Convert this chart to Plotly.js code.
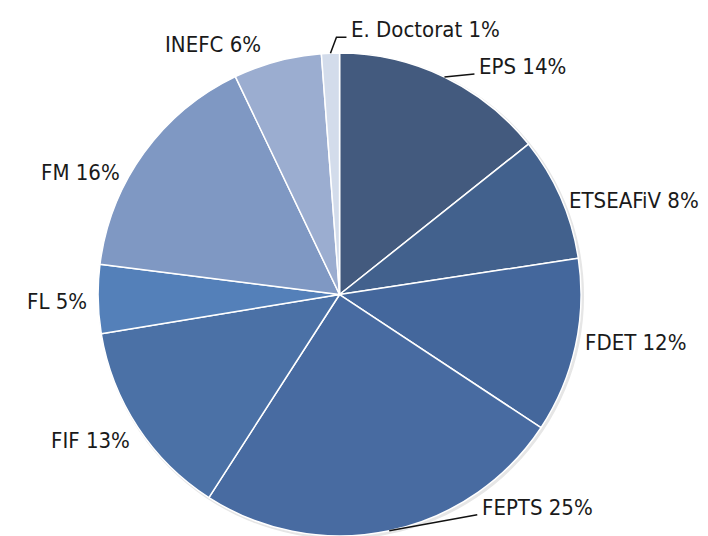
<!DOCTYPE html>
<html>
<head>
<meta charset="utf-8">
<script src="https://cdn.plot.ly/plotly-3.0.1.min.js"></script>
<style>html,body{margin:0;padding:0;background:#fff;}#chart{width:708px;height:536px;}</style>
</head>
<body>
<div id="chart"></div>
<script>
// Data (clockwise from 12 o'clock)
const labels = ["EPS", "ETSEAFiV", "FDET", "FEPTS", "FIF", "FL", "FM", "INEFC", "E. Doctorat"];
const values = [14.3, 8.3, 11.7, 24.8, 13.3, 4.6, 15.9, 5.9, 1.2];
const colors = ["#435A7E", "#42618D", "#44679C", "#486BA1", "#4B71A6", "#5480B9", "#7F98C3", "#9BADD0", "#D3DCEB"];

const W = 708, H = 536;
const dom = {x: [0.1385, 0.8207], y: [0.0, 0.9011]};
const cx = (dom.x[0] + dom.x[1]) / 2 * W;
const cy = (1 - (dom.y[0] + dom.y[1]) / 2) * H;
const R = (dom.y[1] - dom.y[0]) * H / 2;

// label placement tweaks (pixels)
const tweak = {
  0: {leader: true, tx: 30, ty: -3},
  1: {dx: 0, dy: 5},
  2: {dx: 1, dy: -5},
  3: {leader: true, tx: 88, ty: -16},
  4: {dx: 0, dy: 10},
  5: {dx: -2, dy: 2},
  6: {dx: -16, dy: 23},
  7: {dx: -12, dy: -10},
  8: {leader: true, elbow: true}
};

const total = values.reduce((a, b) => a + b, 0);
const font = {family: "'Liberation Sans Narrow', 'DejaVu Sans Condensed', Arial, sans-serif", size: 22, color: "#1a1a1a"};
const annotations = [];
const shapes = [
  {type: "circle", xref: "paper", yref: "paper", layer: "below",
   x0: (cx - R) / W, x1: (cx + R + 3) / W, y0: 1 - (cy + R + 3) / H, y1: 1 - (cy - R) / H,
   fillcolor: "#e6e6e6", line: {width: 0}},
];
const px = x => x / W, py = y => 1 - y / H;
let cum = 0;
values.forEach((v, i) => {
  const mid = (cum + v / 2) / total * 2 * Math.PI;
  cum += v;
  const s = Math.sin(mid), c = Math.cos(mid);
  const text = labels[i] + " " + Math.round(v / total * 100) + "%";
  const t = tweak[i] || {};
  if (t.leader) {
    const ex = cx + R * s, ey = cy - R * c;
    if (t.elbow) {
      const ux = ex + 6, uy = ey - 16;
      const hx = ux + 10;
      shapes.push({type: "path", xref: "paper", yref: "paper",
        path: `M ${px(ex)} ${py(ey)} L ${px(ux)} ${py(uy)} L ${px(hx)} ${py(uy)}`,
        line: {color: "#111", width: 1.5}});
      annotations.push({x: px(hx + 3), y: py(uy - 8), xref: "paper", yref: "paper", text: text,
        showarrow: false, xanchor: "left", yanchor: "middle", font: font});
    } else {
      const lx = ex + t.tx, ly = ey + t.ty;
      shapes.push({type: "line", xref: "paper", yref: "paper",
        x0: px(ex), y0: py(ey), x1: px(lx), y1: py(ly),
        line: {color: "#111", width: 1.5}});
      annotations.push({x: px(lx + 3), y: py(ly - 7), xref: "paper", yref: "paper", text: text,
        showarrow: false, xanchor: "left", yanchor: "middle", font: font});
    }
  } else {
    const r2 = R + 7;
    const ax = cx + r2 * s + (t.dx || 0), ay = cy - r2 * c + (t.dy || 0);
    annotations.push({x: px(ax), y: py(ay), xref: "paper", yref: "paper", text: text,
      showarrow: false, xanchor: s >= 0 ? "left" : "right", yanchor: "middle", font: font});
  }
});

const trace = {
  type: "pie",
  labels: labels,
  values: values,
  sort: false,
  direction: "clockwise",
  rotation: 0,
  textinfo: "none",
  hoverinfo: "label+percent",
  marker: {colors: colors, line: {color: "#ffffff", width: 1.5}},
  domain: dom,
  showlegend: false
};

const layout = {
  width: W, height: H,
  margin: {l: 0, r: 0, t: 0, b: 0},
  paper_bgcolor: "#ffffff",
  showlegend: false,
  annotations: annotations,
  shapes: shapes
};

Plotly.newPlot("chart", [trace], layout, {displayModeBar: false, staticPlot: true});
</script>
</body>
</html>
